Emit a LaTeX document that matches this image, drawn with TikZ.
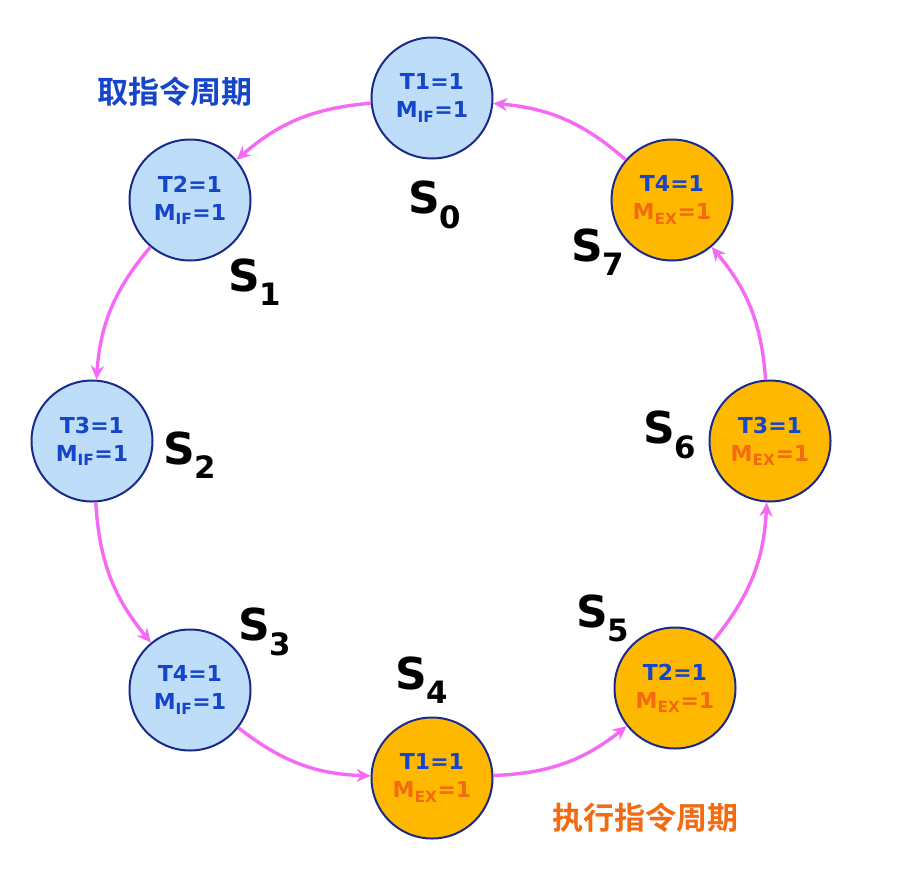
\documentclass[tikz,border=0pt]{standalone}
\usepackage{fontspec}
\usetikzlibrary{arrows.meta}
\setmainfont{DejaVu Sans}
\newfontfamily\cjk{Noto Sans CJK SC}[BoldFont={Noto Sans CJK SC Bold}]
\definecolor{tblue}{HTML}{1545C8}
\definecolor{lblue}{HTML}{BEDDF8}
\definecolor{ofill}{HTML}{FFB800}
\definecolor{otext}{HTML}{F26A12}
\definecolor{edgec}{HTML}{F56AF5}
\definecolor{bord}{HTML}{1A2A8C}
\begin{document}
\begin{tikzpicture}[x=1pt,y=-1pt,
  st/.style={circle,draw=bord,line width=2pt,minimum size=121pt,inner sep=0pt,font=\bfseries\fontsize{22}{28}\selectfont,align=center},
  ifs/.style={st,fill=lblue,text=tblue},
  exs/.style={st,fill=ofill},
  lab/.style={font=\bfseries\fontsize{44}{44}\selectfont},
  ar/.style={draw=edgec,line width=3.4pt,-{Stealth[length=14pt,width=13pt]},bend right=18}]
\useasboundingbox (0,0) rectangle (912,894);
\newcommand{\mif}{M\textsubscript{IF}=1}
\newcommand{\mex}{\textcolor{otext}{M\textsubscript{EX}=1}}
\node[ifs] (s0) at (432,98) {T1=1\\\mif};
\node[ifs] (s1) at (190,200) {T2=1\\\mif};
\node[ifs] (s2) at (92,441) {T3=1\\\mif};
\node[ifs] (s3) at (190,690) {T4=1\\\mif};
\node[exs,text=tblue] (s4) at (432,778) {T1=1\\\mex};
\node[exs,text=tblue] (s5) at (675,688) {T2=1\\\mex};
\node[exs,text=tblue] (s6) at (770,441) {T3=1\\\mex};
\node[exs,text=tblue] (s7) at (672,200) {T4=1\\\mex};
\path[ar] (s0) to (s1);
\path[ar] (s1) to (s2);
\path[ar] (s2) to (s3);
\path[ar] (s3) to (s4);
\path[ar] (s4) to (s5);
\path[ar] (s5) to (s6);
\path[ar] (s6) to (s7);
\path[ar] (s7) to (s0);
\node[lab] (l0) at (435,205) {S\textsubscript{0}};
\node[lab] (l1) at (255,282) {S\textsubscript{1}};
\node[lab] (l2) at (190,455) {S\textsubscript{2}};
\node[lab] (l3) at (265,632) {S\textsubscript{3}};
\node[lab] (l4) at (422,680) {S\textsubscript{4}};
\node[lab] (l5) at (603,618) {S\textsubscript{5}};
\node[lab] (l6) at (670,435) {S\textsubscript{6}};
\node[lab] (l7) at (598,252) {S\textsubscript{7}};
\node[text=tblue,font=\cjk\bfseries\fontsize{31}{31}\selectfont] (c1) at (175,92) {取指令周期};
\node[text=otext,font=\cjk\bfseries\fontsize{31}{31}\selectfont] (c2) at (645,818) {执行指令周期};
\end{tikzpicture}
\end{document}
